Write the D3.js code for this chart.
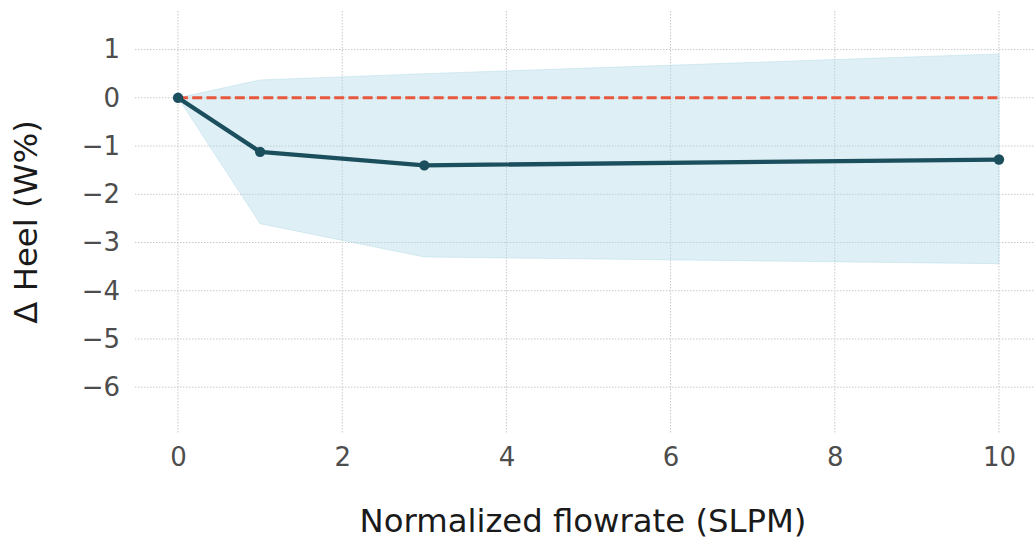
<!DOCTYPE html>
<html>
<head>
<meta charset="utf-8">
<script src="https://cdn.jsdelivr.net/npm/d3@7/dist/d3.min.js"></script>
<style>
  html, body { margin: 0; padding: 0; background: #fff; }
  svg { display: block; font-family: "DejaVu Sans", sans-serif; }
</style>
</head>
<body>
<svg id="chart" width="1034" height="542"></svg>
<script>
// Flowrate steps (SLPM) and change in heel weight (W%)
const flowrates = [0, 1, 3, 10];
const meanHeel = [0, -1.12, -1.40, -1.28];
const upperHeel = [0, 0.37, 0.50, 0.91];
const lowerHeel = [0, -2.61, -3.30, -3.44];
const xTicks = [0, 2, 4, 6, 8, 10];
const yTicks = [1, 0, -1, -2, -3, -4, -5, -6];
const baseline = 0;

const width = 1034, height = 542;
const plot = { left: 137, right: 1040, top: 11, bottom: 433 };

const svg = d3.select("#chart");

const x = d3.scaleLinear().domain([-0.5, 10.5]).range([plot.left, plot.right]);
const y = d3.scaleLinear().domain([-6.95, 1.8]).range([plot.bottom, plot.top]);

const fmt = d => (d < 0 ? "\u2212" + Math.abs(d) : String(d));

// grid
const grid = svg.append("g");
grid.selectAll("line.gy").data(yTicks).join("line")
  .attr("x1", plot.left - 2).attr("x2", width)
  .attr("y1", d => y(d)).attr("y2", d => y(d))
  .attr("stroke", "#c8c8c8").attr("stroke-width", 1).attr("stroke-dasharray", "1.5,1.5");
grid.selectAll("line.gx").data(xTicks).join("line")
  .attr("x1", d => x(d)).attr("x2", d => x(d))
  .attr("y1", plot.top).attr("y2", plot.bottom)
  .attr("stroke", "#c8c8c8").attr("stroke-width", 1).attr("stroke-dasharray", "1.5,1.5");

// y axis labels
const yAxis = d3.axisLeft(y).tickValues(yTicks).tickFormat(fmt).tickSize(0).tickPadding(17);
svg.append("g").attr("transform", `translate(${plot.left},0)`).call(yAxis)
  .call(g => g.select(".domain").remove())
  .call(g => g.selectAll("text").attr("font-size", 26).attr("fill", "#4d4d4d")
    .attr("font-family", "DejaVu Sans"));

// x axis labels
const xAxis = d3.axisBottom(x).tickValues(xTicks).tickFormat(fmt).tickSize(0).tickPadding(14.5);
svg.append("g").attr("transform", `translate(0,${plot.bottom})`).call(xAxis)
  .call(g => g.select(".domain").remove())
  .call(g => g.selectAll("text").attr("font-size", 26).attr("fill", "#4d4d4d")
    .attr("font-family", "DejaVu Sans"));

const data = flowrates.map((f, i) => ({ f, m: meanHeel[i], lo: lowerHeel[i], hi: upperHeel[i] }));

// spread band
svg.append("path").datum(data)
  .attr("d", d3.area().x(d => x(d.f)).y0(d => y(d.lo)).y1(d => y(d.hi)))
  .attr("fill", "#add8e6").attr("fill-opacity", 0.4)
  .attr("stroke", "#add8e6").attr("stroke-opacity", 0.4).attr("stroke-width", 1);

// zero reference
svg.append("line")
  .attr("x1", x(flowrates[0])).attr("x2", x(flowrates[flowrates.length - 1]))
  .attr("y1", y(baseline)).attr("y2", y(baseline))
  .attr("stroke", "#e8583e").attr("stroke-width", 3).attr("stroke-dasharray", "10,4.2");

// mean line
svg.append("path").datum(data)
  .attr("d", d3.line().x(d => x(d.f)).y(d => y(d.m)))
  .attr("fill", "none").attr("stroke", "#1c4f5e").attr("stroke-width", 4.3)
  .attr("stroke-linejoin", "round");
svg.selectAll("circle.pt").data(data).join("circle")
  .attr("cx", d => x(d.f)).attr("cy", d => y(d.m)).attr("r", 5.2)
  .attr("fill", "#1c4f5e");

// axis titles
svg.append("text")
  .attr("x", 583).attr("y", 532)
  .attr("text-anchor", "middle").attr("font-size", 32.3).attr("fill", "#1a1a1a")
  .text("Normalized flowrate (SLPM)");
svg.append("text")
  .attr("transform", `translate(37,${(plot.top + plot.bottom) / 2}) rotate(-90)`)
  .attr("text-anchor", "middle").attr("font-size", 32.3).attr("fill", "#1a1a1a")
  .text("\u0394 Heel (W%)");
</script>
</body>
</html>
